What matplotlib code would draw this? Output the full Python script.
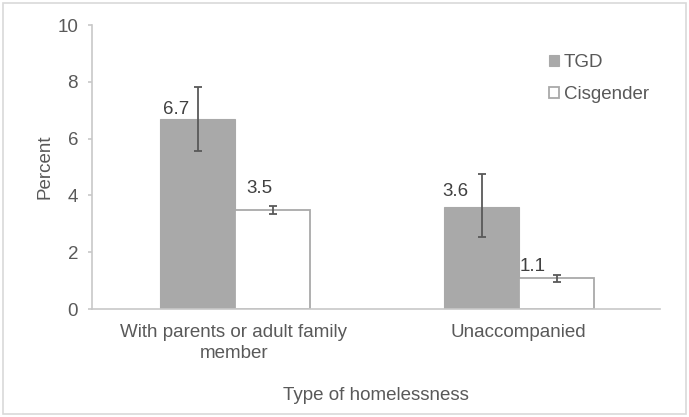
import matplotlib
matplotlib.use("Agg")
import matplotlib.pyplot as plt
import numpy as np
from matplotlib.patches import Rectangle

categories = ["With parents or adult family\nmember", "Unaccompanied"]
series_names = ["TGD", "Cisgender"]
tgd_values = [6.7, 3.6]
cis_values = [3.5, 1.1]
tgd_low = [5.57, 2.52]
tgd_high = [7.83, 4.74]
cis_low = [3.36, 0.95]
cis_high = [3.62, 1.20]
yticks = [0, 2, 4, 6, 8, 10]

plt.rcParams['font.family'] = ['Liberation Sans', 'DejaVu Sans']
text_color = "#595959"
axis_color = "#C8C8C8"
bar_gray = "#A9A9A9"
fs = 13.5

fig = plt.figure(figsize=(6.89, 4.17), dpi=100)
ax = fig.add_axes([92/689, 1 - 309/417, (660-92)/689, (309-25)/417])

x = np.arange(len(categories))
w = 0.264
shift = 0.005
tgd_err = [np.array(tgd_values) - np.array(tgd_low), np.array(tgd_high) - np.array(tgd_values)]
cis_err = [np.array(cis_values) - np.array(cis_low), np.array(cis_high) - np.array(cis_values)]

b1 = ax.bar(x - w/2 + shift, tgd_values, w, color=bar_gray, edgecolor=bar_gray, linewidth=0.8,
            label=series_names[0], zorder=2)
b2 = ax.bar(x + w/2 + shift, cis_values, w, color="white", edgecolor=bar_gray, linewidth=1.3,
            label=series_names[1], zorder=2)
ax.errorbar(x - w/2 + shift, tgd_values, yerr=tgd_err, fmt='none', ecolor="#595959",
            elinewidth=1.3, capsize=2.8, capthick=1.3, zorder=3)
ax.errorbar(x + w/2 + shift, cis_values, yerr=cis_err, fmt='none', ecolor="#595959",
            elinewidth=1.3, capsize=2.8, capthick=1.3, zorder=3)

# label offsets (points) for TGD-1, TGD-2, Cis-1, Cis-2
label_offsets = [(-15.8, 3.6), (-19.4, 7.7), (-9.7, 12.0), (-17.6, 4.8)]
bars = list(b1) + list(b2)
vals = tgd_values + cis_values
for bar, v, (dx, dy) in zip(bars, vals, label_offsets):
    ax.annotate(f"{v:.1f}", (bar.get_x() + bar.get_width()/2, v), xytext=(dx, dy),
                textcoords="offset points", ha="center", va="baseline",
                fontsize=fs, color="#404040", zorder=4)

ax.set_xlim(-0.5, 1.5)
ax.set_ylim(0, 10)
ax.set_yticks(yticks)
ax.set_xticks(x)
ax.set_xticklabels(categories, fontsize=fs, color=text_color, linespacing=1.25)
ax.tick_params(axis='y', labelsize=fs, labelcolor=text_color, color=axis_color, length=3, width=1.2, pad=7)
ax.tick_params(axis='x', length=0, pad=11)
for s in ["top", "right"]:
    ax.spines[s].set_visible(False)
for s in ["left", "bottom"]:
    ax.spines[s].set_color(axis_color)
    ax.spines[s].set_linewidth(1.2)

ax.set_ylabel("Percent", fontsize=fs, color=text_color, labelpad=3)
ax.set_xlabel("Type of homelessness", fontsize=fs, color=text_color, labelpad=18)

leg = ax.legend(loc="upper left", bbox_to_anchor=((549-92)/568, (309-54)/284), frameon=False,
                fontsize=fs, handlelength=0.55, handleheight=0.55, handletextpad=0.25,
                labelspacing=0.82, borderpad=0, borderaxespad=0)
for t in leg.get_texts():
    t.set_color(text_color)

fig.patches.append(Rectangle((3/689, 3/417), 683/689, 411/417, transform=fig.transFigure,
                             fill=False, edgecolor="#D9D9D9", linewidth=1.2))

fig.savefig("out.png", dpi=100)
